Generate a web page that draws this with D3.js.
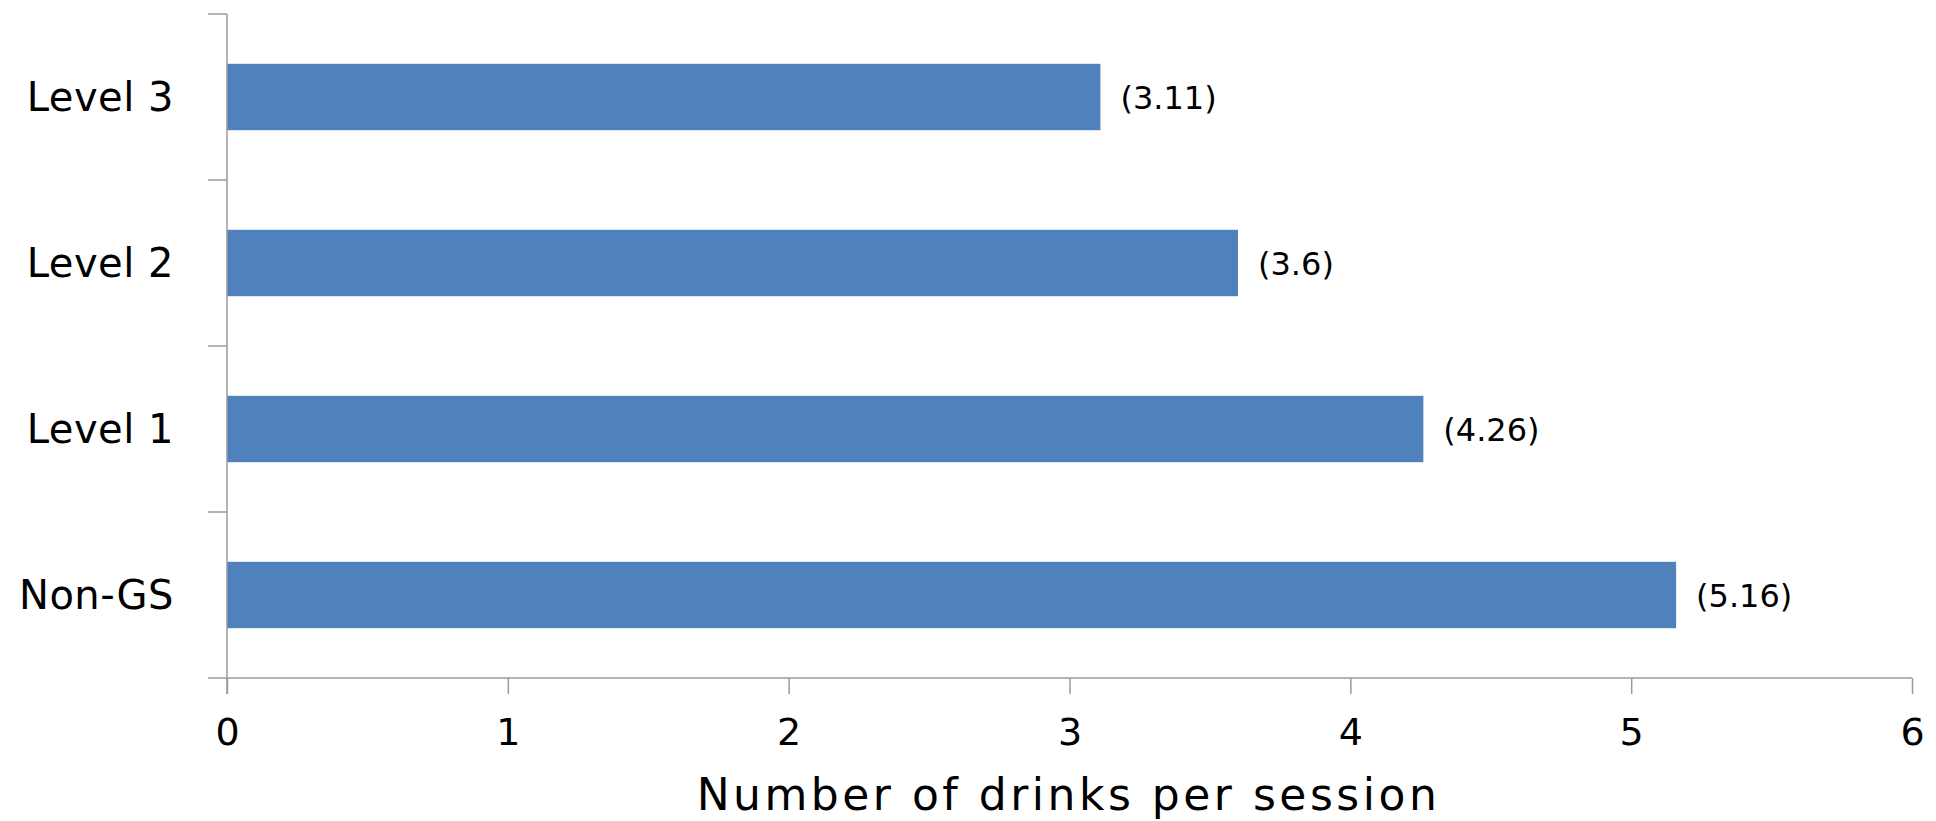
<!DOCTYPE html>
<html>
<head>
<meta charset="utf-8">
<script src="https://cdn.jsdelivr.net/npm/d3@7"></script>
<style>
  html, body { margin: 0; padding: 0; background: #fff; }
  svg text { font-family: "DejaVu Sans", Verdana, sans-serif; fill: #000; }
</style>
</head>
<body>
<svg id="chart" width="1936" height="821"></svg>
<script>
const categories = ["Level 3", "Level 2", "Level 1", "Non-GS"];
const values = [3.11, 3.6, 4.26, 5.16];
const valueLabels = ["(3.11)", "(3.6)", "(4.26)", "(5.16)"];
const xTicks = [0, 1, 2, 3, 4, 5, 6];
const xTitle = "Number of drinks per session";

const svg = d3.select("#chart");
const mLeft = 227, mRight = 1912, mTop = 14, mBottom = 678;
const axisColor = "#9a9a9a";

const x = d3.scaleLinear().domain([0, 6]).range([mLeft, mRight]);
const y = d3.scaleBand().domain(categories).range([mTop, mBottom])
  .paddingInner(0.6).paddingOuter(0.3);

// bars
svg.append("g").selectAll("rect").data(categories).join("rect")
  .attr("x", x(0))
  .attr("y", d => y(d))
  .attr("width", (d, i) => x(values[i]) - x(0))
  .attr("height", y.bandwidth())
  .attr("fill", "#4F81BD");

// value labels
svg.append("g").selectAll("text").data(categories).join("text")
  .attr("x", (d, i) => x(values[i]) + 20)
  .attr("y", d => y(d) + y.bandwidth() / 2 + 12)
  .attr("font-size", 32)
  .attr("fill", "#222")
  .text((d, i) => valueLabels[i]);

// x axis
const xAxis = d3.axisBottom(x).tickValues(xTicks).tickSize(16).tickPadding(24)
  .tickFormat(d3.format("d"));
const gx = svg.append("g").attr("transform", `translate(0,${mBottom})`).call(xAxis);
gx.select(".domain").remove();
gx.selectAll(".tick line").attr("stroke", axisColor).attr("stroke-width", 1.5);
gx.selectAll(".tick text").attr("font-size", 38).attr("font-family", "DejaVu Sans").attr("fill", "#000");
svg.append("line")
  .attr("x1", mLeft - 19).attr("x2", mRight)
  .attr("y1", mBottom).attr("y2", mBottom)
  .attr("stroke", axisColor).attr("stroke-width", 1.5);

// y axis line
svg.append("line")
  .attr("x1", mLeft).attr("x2", mLeft)
  .attr("y1", mTop).attr("y2", mBottom + 16)
  .attr("stroke", axisColor).attr("stroke-width", 1.5);

// y axis tick marks at band boundaries
const step = y.step();
const boundaries = categories.map(c => y(c) - step * y.paddingInner() / 2);
svg.append("g").selectAll("line").data(boundaries).join("line")
  .attr("x1", mLeft - 19).attr("x2", mLeft)
  .attr("y1", d => d).attr("y2", d => d)
  .attr("stroke", axisColor).attr("stroke-width", 1.5);

// category labels
svg.append("g").selectAll("text").data(categories).join("text")
  .attr("x", mLeft - 53)
  .attr("y", d => y(d) + y.bandwidth() / 2 + 14)
  .attr("text-anchor", "end")
  .attr("font-size", 40)
  .attr("letter-spacing", 0.5)
  .text(d => d);

// x title
svg.append("text")
  .attr("x", (mLeft + mRight) / 2 - 1)
  .attr("y", 810)
  .attr("text-anchor", "middle")
  .attr("font-size", 44)
  .attr("letter-spacing", 3.5)
  .text(xTitle);
</script>
</body>
</html>
